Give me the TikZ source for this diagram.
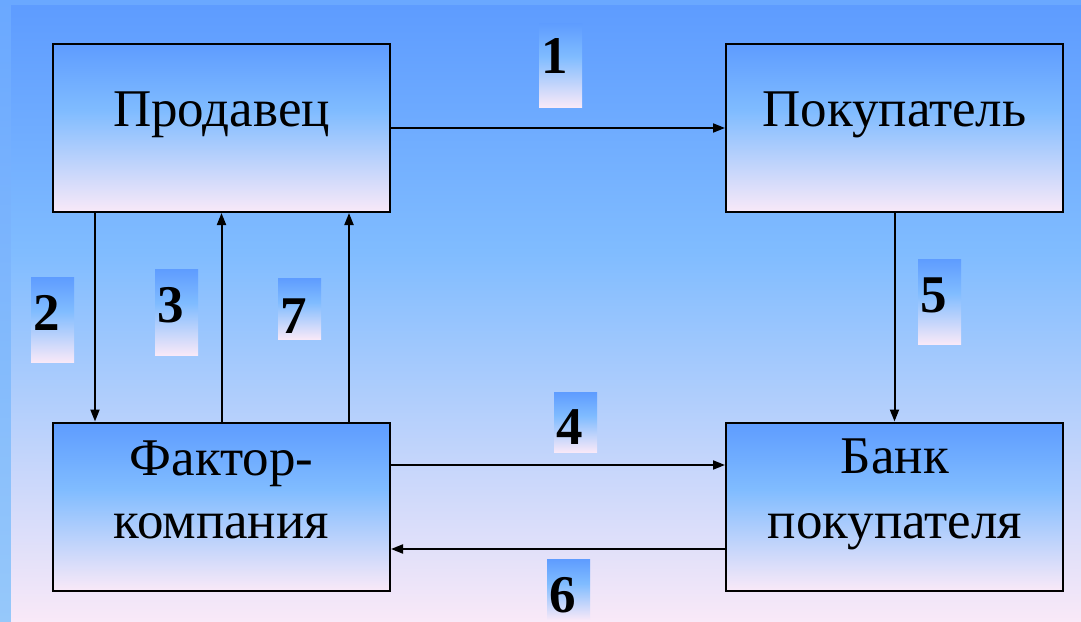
\documentclass[tikz,border=0pt]{standalone}
\usepackage{fontspec}
\setmainfont{Liberation Serif}
\usetikzlibrary{arrows.meta}
\definecolor{tblue}{HTML}{5E9CFF}
\definecolor{mblue}{HTML}{80BCFF}
\definecolor{pinkw}{HTML}{F9E9F8}
\definecolor{otop}{HTML}{6AA8FF}
\definecolor{obot}{HTML}{96C8FA}
\pgfdeclareverticalshading{skyfade}{100bp}{color(0bp)=(pinkw); color(25bp)=(pinkw); color(55bp)=(mblue); color(75bp)=(tblue); color(100bp)=(tblue)}
\begin{document}
\begin{tikzpicture}[x=1bp,y=-1bp,
 box/.style={draw=black, line width=2bp, shading=skyfade, minimum width=337bp, minimum height=168bp, inner sep=0pt},
 txt/.style={font=\fontsize{53bp}{60bp}\selectfont, anchor=base, inner sep=0pt},
 numbox/.style={shading=skyfade, minimum width=43bp, inner sep=0pt, anchor=north west},
 num/.style={font=\fontsize{53bp}{53bp}\selectfont\bfseries, anchor=base west, inner sep=0pt},
 arr/.style={line width=2bp, -{Triangle[length=12bp,width=9bp]}}]
\useasboundingbox (0,0) rectangle (1081,622);
\shade[top color=otop, bottom color=obot] (0,0) rectangle (1081,622);
\shade[shading=skyfade] (11,6) rectangle (1081,622);

% boxes
\node[box] (s) at (221.5,128) {};
\node[box] (b) at (894.5,128) {};
\node[box] (f) at (221.5,506.5) {};
\node[box] (k) at (894.5,506.5) {};

% box texts
\node[txt] (st) at (221.5,127) {Продавец};
\node[txt] (bt) at (894.5,127) {Покупатель};
\node[txt] (ft1) at (221.5,475) {Фактор-};
\node[txt] (ft2) at (221.5,538) {компания};
\node[txt] (kt1) at (895,473) {Банк};
\node[txt] (kt2) at (895,538) {покупателя};

% connectors
\draw[arr] (s.east) -- (b.west);
\draw[arr] ([xshift=43bp]s.south west) -- ([xshift=43bp]f.north west);
\draw[arr] (f.north) -- (s.south);
\draw[arr] ([xshift=-42bp]f.north east) -- ([xshift=-42bp]s.south east);
\draw[arr] (b.south) -- (k.north);
\draw[arr] ([yshift=41.5bp]f.east) -- ([yshift=41.5bp]k.west);
\draw[arr] ([yshift=-42.5bp]k.west) -- ([yshift=-42.5bp]f.east);

% number labels
\node[numbox, minimum height=84bp] (l1) at (539,23) {};
\node[num] (n1) at ([xshift=2bp, yshift=-51bp]l1.north west) {1};
\node[numbox, minimum height=85bp] (l2) at (31,277) {};
\node[num] (n2) at ([xshift=2bp, yshift=-53bp]l2.north west) {2};
\node[numbox, minimum height=86bp] (l3) at (155,269) {};
\node[num] (n3) at ([xshift=2bp, yshift=-53bp]l3.north west) {3};
\node[numbox, minimum height=61bp] (l7) at (278,278) {};
\node[num] (n7) at ([xshift=2bp, yshift=-55bp]l7.north west) {7};
\node[numbox, minimum height=60bp] (l4) at (554,392) {};
\node[num] (n4) at ([xshift=2bp, yshift=-52bp]l4.north west) {4};
\node[numbox, minimum height=85bp] (l5) at (918,259) {};
\node[num] (n5) at ([xshift=2bp, yshift=-53bp]l5.north west) {5};
\node[numbox, minimum height=61bp] (l6) at (547,559) {};
\node[num] (n6) at ([xshift=2bp, yshift=-53bp]l6.north west) {6};
\end{tikzpicture}
\end{document}
